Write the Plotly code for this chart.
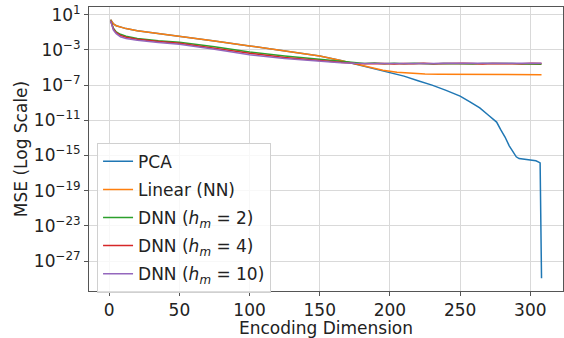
import numpy as np
import plotly.graph_objects as go

# ---- data (log10 of MSE) ----
pca_x = [1, 2, 3, 5, 8, 12, 20, 35, 50, 75, 100, 125, 150, 165, 175, 185, 195, 200, 210, 220,
         230, 240, 250, 257, 264, 270, 276, 279, 282, 285, 288, 290, 292, 296, 300, 304, 306, 307, 308]
pca_log10 = [0.45, 0.15, -0.05, -0.25, -0.42, -0.58, -0.82, -1.12, -1.42, -1.98, -2.55, -3.1, -3.7,
             -4.2, -4.6, -4.98, -5.35, -5.57, -5.98, -6.5, -7.0, -7.6, -8.25, -8.9, -9.6, -10.4,
             -11.2, -12.1, -12.9, -13.9, -14.7, -15.15, -15.35, -15.45, -15.5, -15.6, -15.75, -15.85, -28.95]

lin_x = [1, 2, 3, 5, 8, 12, 20, 35, 50, 75, 100, 125, 150, 165, 175, 185, 195, 205, 215, 225,
         235, 250, 270, 290, 308]
lin_log10 = [0.45, 0.15, -0.05, -0.25, -0.42, -0.58, -0.82, -1.12, -1.42, -1.98, -2.55, -3.1, -3.7,
             -4.2, -4.6, -4.98, -5.32, -5.55, -5.68, -5.75, -5.78, -5.8, -5.81, -5.82, -5.82]

dnn_x = [1, 2, 3, 5, 8, 12, 20, 35, 50, 75, 100, 125, 150, 165,
         175, 182, 189, 196, 203, 210, 217, 224, 231, 238, 245, 252, 259, 266, 273, 280, 287, 294, 301, 308]
dnn2_log10 = [0.35, -0.2, -0.55, -0.95, -1.23, -1.45, -1.7, -1.95, -2.14, -2.65, -3.24, -3.7, -4.07, -4.35,
              -4.52, -4.55, -4.50, -4.57, -4.53, -4.58, -4.52, -4.56, -4.60, -4.54, -4.57, -4.52, -4.59,
              -4.55, -4.53, -4.58, -4.56, -4.60, -4.57, -4.62]
dnn4_log10 = [0.3, -0.3, -0.65, -1.05, -1.35, -1.57, -1.8, -2.05, -2.25, -2.8, -3.39, -3.85, -4.23, -4.42,
              -4.55, -4.58, -4.53, -4.56, -4.60, -4.54, -4.57, -4.52, -4.58, -4.55, -4.59, -4.53, -4.56,
              -4.60, -4.54, -4.57, -4.55, -4.58, -4.53, -4.56]
dnn10_log10 = [0.3, -0.35, -0.75, -1.15, -1.5, -1.7, -1.9, -2.15, -2.36, -2.92, -3.55, -3.98, -4.3, -4.45,
               -4.52, -4.53, -4.52, -4.54, -4.52, -4.53, -4.52, -4.53, -4.54, -4.52, -4.53, -4.52, -4.53,
               -4.52, -4.54, -4.53, -4.52, -4.53, -4.52, -4.53]

y_tick_exp = [1, -3, -7, -11, -15, -19, -23, -27]
x_ticks = [0, 50, 100, 150, 200, 250, 300]

series = [
    ("PCA", pca_x, pca_log10, "#1f77b4"),
    ("Linear (NN)", lin_x, lin_log10, "#ff7f0e"),
    ("DNN (<i>h</i><sub><i>m</i></sub> = 2)", dnn_x, dnn2_log10, "#2ca02c"),
    ("DNN (<i>h</i><sub><i>m</i></sub> = 4)", dnn_x, dnn4_log10, "#d62728"),
    ("DNN (<i>h</i><sub><i>m</i></sub> = 10)", dnn_x, dnn10_log10, "#9467bd"),
]

FONT = "DejaVu Sans"
FS = 17
fig = go.Figure()
for i, (name, xs, ls, col) in enumerate(series):
    fig.add_trace(go.Scatter(
        x=xs, y=10 ** np.array(ls, dtype=float), mode="lines", name=name,
        line=dict(color=col, width=1.5), legendgroup=f"g{i}",
    ))

grid = "#d9d9d9"
fig.update_layout(
    width=564, height=338,
    margin=dict(l=89, r=1, t=7, b=47),
    plot_bgcolor="white", paper_bgcolor="white",
    font=dict(family=FONT, size=FS, color="#222222"),
    showlegend=True,
    legend=dict(
        x=0.017, y=0.522, xanchor="left", yanchor="top",
        bgcolor="rgba(255,255,255,0.8)", bordercolor="#d0d0d0", borderwidth=1,
        font=dict(family=FONT, size=FS, color="#222222"),
        tracegroupgap=3, itemwidth=30,
    ),
    xaxis=dict(
        range=[-14.4, 323.3], tickvals=x_ticks, ticktext=[str(v) for v in x_ticks],
        showgrid=True, gridcolor=grid, gridwidth=1,
        showline=True, linecolor="#555555", linewidth=1, mirror=True,
        ticks="outside", ticklen=4, tickcolor="#555555",
        zeroline=False,
        title=dict(text="Encoding Dimension", standoff=3, font=dict(size=FS)),
    ),
    yaxis=dict(
        type="log", range=[-30.4, 1.875],
        tickvals=[10.0 ** e for e in y_tick_exp],
        ticktext=["10<sup>" + (str(e) if e >= 0 else "\u2212" + str(-e)) + "</sup>" for e in y_tick_exp],
        showgrid=True, gridcolor=grid, gridwidth=1,
        showline=True, linecolor="#555555", linewidth=1, mirror=True,
        ticks="outside", ticklen=4, tickcolor="#555555",
        zeroline=False,
        title=dict(text="MSE (Log Scale)", standoff=1, font=dict(size=FS)),
    ),
)

fig.write_html("out.html")
